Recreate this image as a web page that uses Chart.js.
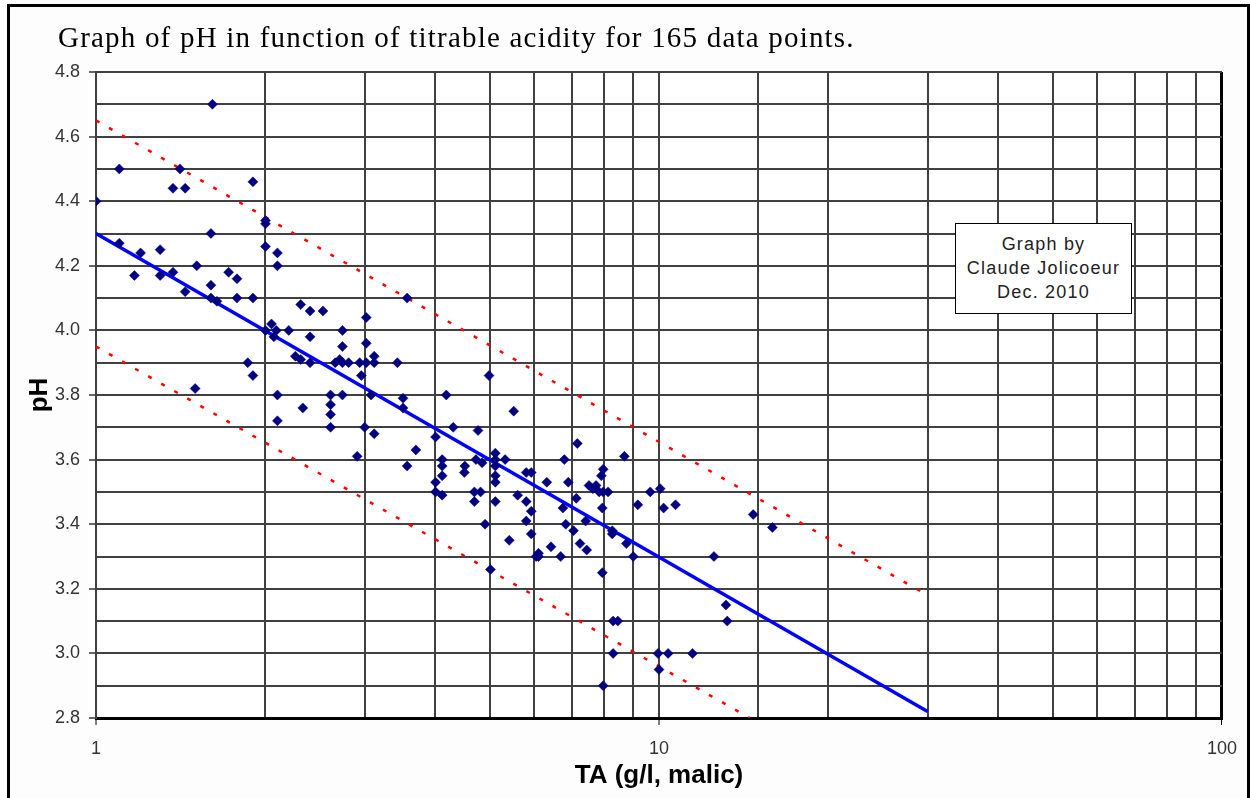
<!DOCTYPE html>
<html>
<head>
<meta charset="utf-8">
<title>pH vs TA</title>
<script src="https://cdn.jsdelivr.net/npm/chart.js@4/dist/chart.umd.min.js"></script>
<style>
    body { margin: 0; background: #fcfdfc; width: 1250px; height: 798px; overflow: hidden; position: relative; }
    #frame { position: absolute; left: 7px; top: 4px; width: 1237px; height: 820px; border: 3px solid #000; }
    #titre { position: absolute; left: 58px; top: 23px; font: 29px "Liberation Serif", "Times New Roman", serif; line-height: 28px;
             letter-spacing: 1.2px; color: #000; white-space: nowrap; }
    #graf { position: absolute; left: 0; top: 0; }
    #note { position: absolute; left: 955px; top: 223px; width: 175px; height: 89px; border: 1px solid #000; background: #fff;
            box-sizing: content-box; padding-top: 0; text-align: center; font: 18px "Liberation Sans", Arial, sans-serif;
            letter-spacing: 1.2px; line-height: 24px; color: #222; }
    #note div:first-child { margin-top: 8px; }
</style>
</head>
<body>
<div id="frame"></div>
<canvas id="graf" width="1250" height="798"></canvas>
<div id="titre">Graph of pH in function of titrable acidity for 165 data points.</div>
<div id="note"><div>Graph by</div><div>Claude Jolicoeur</div><div>Dec. 2010</div></div>

<script>
const taValues = [
    1.61, 1.10, 1.41, 1.37, 1.44, 1.90, 1.00, 2.00, 2.00, 1.60,
    1.10, 1.20, 1.30, 2.00, 2.10, 2.10, 1.51, 1.17, 1.30, 1.37,
    1.72, 1.78, 1.60, 1.44, 1.60, 1.64, 1.78, 1.90,
    2.31, 2.40, 2.05, 2.00, 2.09, 2.07, 2.20, 2.40, 2.26, 2.31,
    2.40, 1.86, 1.90, 1.50, 2.10, 2.33, 2.10,
    2.53, 3.57, 3.02, 2.74, 2.74, 3.02, 3.12, 3.12, 2.66, 2.71,
    2.74, 2.81, 2.94, 3.02, 3.43, 2.96, 4.99, 2.61, 2.74, 3.08,
    4.19, 3.51, 3.51, 2.61, 2.61, 2.61, 5.52, 3.00, 3.12, 4.31,
    4.01, 4.77, 3.70, 2.91, 3.57, 4.12, 4.12, 4.12, 4.01, 4.52,
    4.51, 4.73, 4.85, 5.12, 5.12, 5.12, 5.33, 5.12, 5.12, 5.81, 5.93,
    4.01, 4.12, 4.70, 4.82, 4.70, 5.12, 4.91, 5.61, 5.81, 5.93,
    5.81, 5.93, 5.42, 5.02, 6.05,
    7.16, 8.68, 6.79, 6.32, 6.90, 7.96, 7.90, 7.51, 7.73, 7.83,
    7.96, 8.12, 7.63, 9.65, 10.05, 7.13, 6.75, 7.93, 9.17, 10.19,
    10.70, 14.70, 15.90, 7.41, 6.83, 7.05, 8.26, 8.26, 8.75, 6.43,
    7.24, 7.44, 6.11, 6.11, 6.69, 9.00, 12.52, 7.93,
    13.15, 13.22, 8.29, 8.45, 8.29, 9.96, 10.38, 11.47, 10.00, 7.96
];
const phValues = [
    4.70, 4.50, 4.50, 4.44, 4.44, 4.46, 4.40, 4.34, 4.33, 4.30,
    4.27, 4.24, 4.25, 4.26, 4.24, 4.20, 4.20, 4.17, 4.17, 4.18,
    4.18, 4.16, 4.14, 4.12, 4.10, 4.09, 4.10, 4.10,
    4.08, 4.06, 4.02, 4.00, 4.00, 3.98, 4.00, 3.98, 3.92, 3.91,
    3.90, 3.90, 3.86, 3.82, 3.80, 3.76, 3.72,
    4.06, 4.10, 4.04, 4.00, 3.95, 3.96, 3.92, 3.90, 3.90, 3.91,
    3.90, 3.90, 3.90, 3.90, 3.90, 3.86, 3.86, 3.80, 3.80, 3.80,
    3.80, 3.79, 3.76, 3.77, 3.74, 3.70, 3.75, 3.70, 3.68, 3.70,
    3.67, 3.69, 3.63, 3.61, 3.58, 3.60, 3.58, 3.55, 3.53, 3.58,
    3.56, 3.60, 3.59, 3.62, 3.60, 3.58, 3.60, 3.55, 3.53, 3.56, 3.56,
    3.50, 3.49, 3.50, 3.50, 3.47, 3.47, 3.40, 3.49, 3.47, 3.44,
    3.41, 3.37, 3.35, 3.26, 3.30,
    3.65, 3.61, 3.60, 3.53, 3.53, 3.57, 3.55, 3.52, 3.52, 3.50,
    3.50, 3.50, 3.51, 3.50, 3.51, 3.48, 3.45, 3.45, 3.46, 3.45,
    3.46, 3.43, 3.39, 3.41, 3.40, 3.38, 3.38, 3.37, 3.34, 3.33,
    3.34, 3.32, 3.31, 3.30, 3.30, 3.30, 3.30, 3.25,
    3.15, 3.10, 3.10, 3.10, 3.00, 3.00, 3.00, 3.00, 2.95, 2.90
];

// droite de regression et limites (pointilles rouges)
const fitTA = [1, 30];
const fitPH = [4.30, 2.82];
const hautTA = [1, 30];
const hautPH = [4.65, 3.18];
const basTA = [1, 14.5];
const basPH = [3.95, 2.80];

// graduations
const xLabels = [1, 10, 100];
const yLabels = ['2.8', '3.0', '3.2', '3.4', '3.6', '3.8', '4.0', '4.2', '4.4', '4.6', '4.8'];

const couleurGrille = '#404040';

function paires(xs, ys) {
    return xs.map((x, i) => ({ x: x, y: ys[i] }));
}

function estEtiquetteY(v) {
    return yLabels.includes(v.toFixed(1));
}

const fondBlanc = {
    id: 'fondBlanc',
    beforeDraw(chart) {
        const a = chart.chartArea;
        const ctx = chart.ctx;
        ctx.save();
        ctx.fillStyle = '#ffffff';
        ctx.fillRect(a.left, a.top, a.right - a.left, a.bottom - a.top);
        ctx.restore();
    }
};

const ctx = document.getElementById('graf').getContext('2d');
new Chart(ctx, {
    type: 'scatter',
    data: {
        datasets: [
            {
                label: 'Mesures',
                data: paires(taValues, phValues),
                pointStyle: 'rectRot',
                pointRadius: 5,
                pointBorderWidth: 0.5,
                backgroundColor: '#000080',
                borderColor: '#000080'
            },
            {
                label: 'Regression',
                data: paires(fitTA, fitPH),
                showLine: true,
                pointRadius: 0,
                borderColor: '#0000ff',
                borderWidth: 3.5
            },
            {
                label: 'Limite haute',
                data: paires(hautTA, hautPH),
                showLine: true,
                pointRadius: 0,
                borderColor: '#ff0000',
                borderWidth: 2.5,
                borderDash: [4, 11]
            },
            {
                label: 'Limite basse',
                data: paires(basTA, basPH),
                showLine: true,
                pointRadius: 0,
                borderColor: '#ff0000',
                borderWidth: 2.5,
                borderDash: [4, 11]
            }
        ]
    },
    options: {
        responsive: false,
        animation: false,
        events: [],
        layout: { padding: { left: 0, top: 72, right: 22, bottom: 0 } },
        plugins: {
            legend: { display: false },
            tooltip: { enabled: false }
        },
        scales: {
            x: {
                type: 'logarithmic',
                min: 1,
                max: 100,
                afterFit: scale => { scale.height = 80; },
                border: { color: '#000', width: 3 },
                grid: {
                    color: c => (c.tick && c.tick.value === 100) ? '#000' : couleurGrille,
                    lineWidth: c => (c.tick && c.tick.value === 100) ? 3 : 2,
                    tickLength: 7,
                    tickColor: c => (c.tick && xLabels.includes(c.tick.value)) ? '#000' : 'rgba(0,0,0,0)',
                    tickWidth: 1
                },
                ticks: {
                    autoSkip: false,
                    maxRotation: 0,
                    padding: 13,
                    color: '#333',
                    font: { family: 'Liberation Sans, Arial, sans-serif', size: 18 },
                    callback: v => xLabels.includes(v) ? String(v) : ''
                },
                title: {
                    display: true,
                    text: 'TA (g/l, malic)',
                    color: '#000',
                    font: { family: 'Liberation Sans, Arial, sans-serif', size: 26, weight: 'bold' },
                    padding: { top: 0, bottom: 7 }
                }
            },
            y: {
                min: 2.8,
                max: 4.8,
                afterFit: scale => { scale.width = 96; },
                border: { color: couleurGrille, width: 2 },
                grid: {
                    color: c => (c.tick && Math.abs(c.tick.value - 2.8) < 0.001) ? '#000' : couleurGrille,
                    lineWidth: 2,
                    tickLength: 7,
                    tickColor: c => (c.tick && estEtiquetteY(c.tick.value)) ? '#333' : 'rgba(0,0,0,0)',
                    tickWidth: 1.5
                },
                ticks: {
                    stepSize: 0.1,
                    autoSkip: false,
                    padding: 9,
                    color: '#333',
                    font: { family: 'Liberation Sans, Arial, sans-serif', size: 18 },
                    callback: v => estEtiquetteY(v) ? v.toFixed(1) : ''
                },
                title: {
                    display: true,
                    text: 'pH',
                    color: '#000',
                    font: { family: 'Liberation Sans, Arial, sans-serif', size: 26, weight: 'bold' },
                    padding: { top: 24, bottom: 0 }
                }
            }
        }
    },
    plugins: [fondBlanc]
});
</script>
</body>
</html>
